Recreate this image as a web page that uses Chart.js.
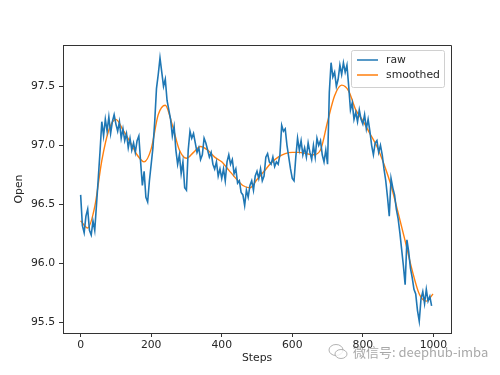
<!DOCTYPE html>
<html>
<head>
<meta charset="utf-8">
<script src="https://cdn.jsdelivr.net/npm/chart.js@4.4.1/dist/chart.umd.min.js"></script>
<style>
  html, body { margin: 0; padding: 0; background: #fff; }
  #wrap { position: relative; width: 500px; height: 375px; }
  #watermark {
    position: absolute; left: 328px; top: 343px;
    font-family: "Noto Sans CJK SC", "DejaVu Sans", sans-serif;
    font-size: 13px; line-height: 18px; color: rgba(110, 110, 110, 0.6);
    white-space: nowrap; pointer-events: none;
  }
  #watermark svg { vertical-align: -4px; margin-right: 5px; }
</style>
</head>
<body>
<div id="wrap">
  <canvas id="chart" width="500" height="375"></canvas>
  <div id="watermark"><svg width="20" height="18" viewBox="0 0 20 18"><ellipse cx="8" cy="7" rx="7" ry="5.5" fill="none" stroke="rgba(130,130,130,0.6)" stroke-width="1"/><ellipse cx="13" cy="11" rx="6" ry="4.5" fill="rgba(255,255,255,0.8)" stroke="rgba(130,130,130,0.6)" stroke-width="1"/></svg>微信号: deephub-imba</div>
</div>
<script>
// raw series sampled every RAW_STEP steps
const RAW_STEP = 5;
const rawValues = [
    96.58, 96.32, 96.26, 96.40, 96.46, 96.28, 96.24, 96.36, 96.28, 96.50,
    96.72, 96.95, 97.20, 97.08, 97.22, 97.12, 97.24, 97.10, 97.20, 97.26,
    97.18, 97.12, 97.20, 97.06, 97.14, 97.04, 97.10, 96.98, 97.06, 96.96,
    97.02, 96.94, 97.04, 97.08, 96.86, 96.66, 96.78, 96.56, 96.52, 96.70,
    96.84, 96.98, 97.20, 97.48, 97.60, 97.74, 97.62, 97.50, 97.56, 97.38,
    97.30, 97.22, 97.08, 97.16, 96.96, 96.84, 96.92, 96.76, 96.86, 96.64,
    96.62, 96.96, 97.12, 97.06, 97.10, 97.02, 96.94, 96.98, 96.88, 96.92,
    97.06, 97.02, 96.96, 96.90, 96.94, 96.84, 96.80, 96.86, 96.74, 96.80,
    96.72, 96.80, 96.70, 96.86, 96.92, 96.84, 96.88, 96.76, 96.80, 96.68,
    96.70, 96.60, 96.58, 96.49, 96.62, 96.56, 96.66, 96.70, 96.62, 96.74,
    96.78, 96.72, 96.80, 96.70, 96.74, 96.90, 96.93, 96.86, 96.84, 96.90,
    96.82, 96.86, 96.84, 96.92, 97.17, 97.12, 97.14, 97.00, 96.90, 96.80,
    96.72, 96.70, 96.90, 97.06, 96.96, 97.04, 96.92, 96.98, 96.90, 97.02,
    96.94, 96.88, 97.00, 96.90, 97.06, 97.00, 97.04, 96.92, 96.86, 96.96,
    96.84, 97.45, 97.70, 97.58, 97.62, 97.50, 97.56, 97.68, 97.60, 97.70,
    97.62, 97.68, 97.50, 97.30, 97.36, 97.22, 97.28, 97.20, 97.30, 97.22,
    97.18, 97.26, 97.14, 97.22, 97.12, 97.00, 96.92, 97.02, 97.04, 96.94,
    97.00, 96.92, 96.80, 96.70, 96.56, 96.40, 96.72, 96.64, 96.58, 96.46,
    96.38, 96.26, 96.12, 95.98, 95.82, 96.20, 96.10, 95.96, 95.88, 95.78,
    95.74, 95.60, 95.51, 95.70, 95.76, 95.66, 95.78, 95.68, 95.72, 95.64
];

const smoothSteps = [0, 20, 40, 60, 80, 100, 120, 140, 160, 180, 200, 220, 240, 260, 280,
    300, 320, 340, 360, 380, 400, 420, 440, 460, 480, 500, 520, 540, 560, 580,
    600, 620, 640, 660, 680, 700, 720, 740, 760, 780, 800, 820, 840, 860, 880,
    900, 920, 940, 960, 980, 999];
const smoothValues = [96.36, 96.30, 96.48, 96.87, 97.13, 97.22, 97.13, 97.03, 96.92, 96.86,
    96.97, 97.26, 97.34, 97.17, 96.96, 96.89, 96.94, 96.99, 96.96, 96.90,
    96.86, 96.79, 96.72, 96.66, 96.64, 96.71, 96.78, 96.85, 96.90, 96.93,
    96.94, 96.94, 96.93, 96.92, 96.96, 97.20, 97.42, 97.51, 97.46, 97.30,
    97.21, 97.10, 96.99, 96.84, 96.66, 96.43, 96.19, 95.94, 95.74, 95.68, 95.74];

const xTicks = [0, 200, 400, 600, 800, 1000];
const yTicks = [95.5, 96.0, 96.5, 97.0, 97.5];

const tickFont = { family: 'DejaVu Sans', size: 10.8 };
const inkColor = '#262626';

// matplotlib-style legend box in the upper right of the plot
const legendBox = {
    id: 'legendBox',
    afterDatasetsDraw(chart) {
        const ctx = chart.ctx;
        const x = 351, y = 50, w = 93, h = 37;
        ctx.save();
        ctx.fillStyle = 'rgba(255,255,255,0.85)';
        ctx.strokeStyle = '#d0d0d0';
        ctx.lineWidth = 1;
        ctx.beginPath();
        ctx.roundRect(x + 0.5, y + 0.5, w, h, 2);
        ctx.fill();
        ctx.stroke();
        ctx.font = '10.8px "DejaVu Sans"';
        ctx.textBaseline = 'middle';
        chart.data.datasets.forEach((ds, i) => {
            const ly = y + 10 + i * 15;
            ctx.strokeStyle = ds.borderColor;
            ctx.lineWidth = 1.5;
            ctx.beginPath();
            ctx.moveTo(x + 6, ly);
            ctx.lineTo(x + 27, ly);
            ctx.stroke();
            ctx.fillStyle = inkColor;
            ctx.fillText(ds.label, x + 35, ly);
        });
        ctx.restore();
    }
};

new Chart(document.getElementById('chart'), {
    type: 'line',
    data: {
        datasets: [{
            label: 'raw',
            data: rawValues.map((v, i) => ({ x: i * RAW_STEP, y: v })),
            borderColor: '#1f77b4',
            borderWidth: 1.6,
            pointRadius: 0,
            tension: 0
        }, {
            label: 'smoothed',
            data: smoothSteps.map((s, i) => ({ x: s, y: smoothValues[i] })),
            borderColor: '#ff7f0e',
            borderWidth: 1.4,
            pointRadius: 0,
            cubicInterpolationMode: 'monotone'
        }]
    },
    options: {
        responsive: false,
        animation: false,
        layout: { padding: { left: 0, right: 49, top: 45, bottom: 0 } },
        plugins: { legend: { display: false }, tooltip: { enabled: false } },
        scales: {
            x: {
                type: 'linear',
                min: -50,
                max: 1050,
                afterBuildTicks: s => { s.ticks = xTicks.map(v => ({ value: v })); },
                afterFit: s => { s.height = 42; },
                grid: { drawOnChartArea: false, drawTicks: true, tickLength: 4, color: '#333' },
                border: { display: true, color: '#333', width: 1 },
                ticks: { font: tickFont, color: inkColor, padding: 2, maxRotation: 0, callback: v => String(v) },
                title: { display: true, text: 'Steps', font: tickFont, color: inkColor, padding: { bottom: 10 } }
            },
            y: {
                type: 'linear',
                min: 95.41,
                max: 97.85,
                afterBuildTicks: s => { s.ticks = yTicks.map(v => ({ value: v })); },
                afterFit: s => { s.width = 63; },
                grid: { drawOnChartArea: false, drawTicks: true, tickLength: 4, color: '#333' },
                border: { display: true, color: '#333', width: 1 },
                ticks: { font: tickFont, color: inkColor, padding: 4, callback: v => v.toFixed(1) },
                title: { display: true, text: 'Open', font: tickFont, color: inkColor, padding: { top: 13 } }
            }
        }
    },
    plugins: [legendBox, {
        id: 'frame',
        // top and right spines
        afterDraw(chart) {
            const a = chart.chartArea, ctx = chart.ctx;
            ctx.save();
            ctx.strokeStyle = '#333';
            ctx.lineWidth = 1;
            ctx.beginPath();
            ctx.moveTo(a.left, a.top + 0.5);
            ctx.lineTo(a.right + 0.5, a.top + 0.5);
            ctx.lineTo(a.right + 0.5, a.bottom);
            ctx.stroke();
            ctx.restore();
        }
    }]
});
</script>
</body>
</html>
